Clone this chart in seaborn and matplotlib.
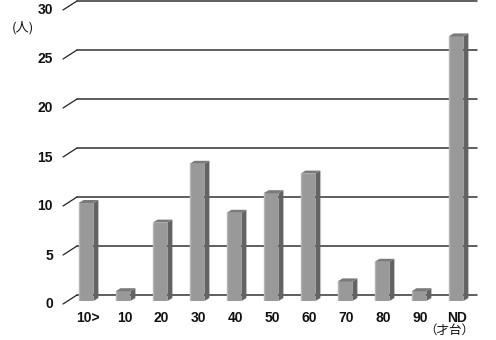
import matplotlib
matplotlib.use("Agg")
import matplotlib.pyplot as plt
import matplotlib.transforms as mtransforms
from matplotlib.patches import Polygon
import seaborn as sns
import pandas as pd

categories = ["10>", "10", "20", "30", "40", "50", "60", "70", "80", "90", "ND"]
values = [10, 1, 8, 14, 9, 11, 13, 2, 4, 1, 27]
y_ticks = [0, 5, 10, 15, 20, 25, 30]
y_unit = "(人)"
x_unit = "（才台）"

sns.set_theme(style="white")
plt.rcParams['font.family'] = ['Liberation Sans', 'Noto Sans CJK JP', 'DejaVu Sans']

W, H = 496, 340
fig = plt.figure(figsize=(W / 100, H / 100), dpi=100)
left, right, bottom, top = 67.5, 474.5, 301, 7
ax = fig.add_axes([left / W, 1 - bottom / H, (right - left) / W, (bottom - top) / H])

df = pd.DataFrame({"cat": categories, "val": values})
sns.barplot(data=df, x="cat", y="val", order=categories, color="#999999",
            width=0.4, saturation=1, edgecolor="none", ax=ax, zorder=3)

ax.set_xlim(-0.5, 10.5)
ax.set_ylim(0, 30)
for s in ax.spines.values():
    s.set_visible(False)
ax.set_xticks([])
ax.set_yticks([])
ax.set_xlabel("")
ax.set_ylabel("")
ax.patch.set_alpha(0)

def off(dx, dy):
    return ax.transData + mtransforms.ScaledTranslation(dx / 100, dy / 100, fig.dpi_scale_trans)

# back wall gridlines and floor/wall diagonals
for v in y_ticks:
    ax.plot([-0.5, 10.3], [v, v], color="#333333", lw=1.1, transform=off(9.5, 6),
            clip_on=False, zorder=1)
    p0 = off(-4.5, -3).transform((-0.5, v))
    p1 = off(9.5, 6).transform((-0.5, v))
    ax.add_line(plt.Line2D([p0[0], p1[0]], [p0[1], p1[1]], transform=None,
                           color="#222222", lw=0.9, clip_on=False, zorder=1))
    ax.text(-0.5, v, str(v), transform=off(-14.5, -3.5), ha="right", va="center",
            fontsize=10, fontweight="bold", color="#111111")

# 3D side and top faces of bars
dx, dy = 5, 3
for p in ax.patches:
    x0 = p.get_x(); w = p.get_width(); h = p.get_height()
    a = ax.transData.transform((x0, 0))
    b = ax.transData.transform((x0 + w, h))
    xl, yb = a; xr, yt = b
    side = Polygon([(xr, yb), (xr, yt), (xr + dx, yt + dy), (xr + dx, yb + dy)],
                   closed=True, transform=None, facecolor="#636363", edgecolor="none",
                   zorder=3, clip_on=False)
    topf = Polygon([(xl, yt), (xr, yt), (xr + dx, yt + dy), (xl + dx, yt + dy)],
                   closed=True, transform=None, facecolor="#7a7a7a", edgecolor="none",
                   zorder=3, clip_on=False)
    ax.add_patch(side)
    ax.add_patch(topf)
    hl = plt.Line2D([xl + 0.5, xl + 0.5], [yb, yt], transform=None, color="#b5b5b5",
                    lw=1, zorder=4)
    ax.add_line(hl)

for i, c in enumerate(categories):
    ax.text(i, 0, c, transform=off(1.5, -17), ha="center", va="center",
            fontsize=10, fontweight="bold", color="#111111")

fig.text(22.5 / W, 1 - 28 / H, y_unit, ha="center", va="center", fontsize=9.5,
         family=['Noto Sans CJK JP', 'DejaVu Sans'], color="#111111")
fig.text(449 / W, 1 - 330 / H, x_unit, ha="center", va="center", fontsize=9,
         family=['Noto Sans CJK JP', 'DejaVu Sans'], color="#111111")

fig.savefig("out.png", dpi=100)
